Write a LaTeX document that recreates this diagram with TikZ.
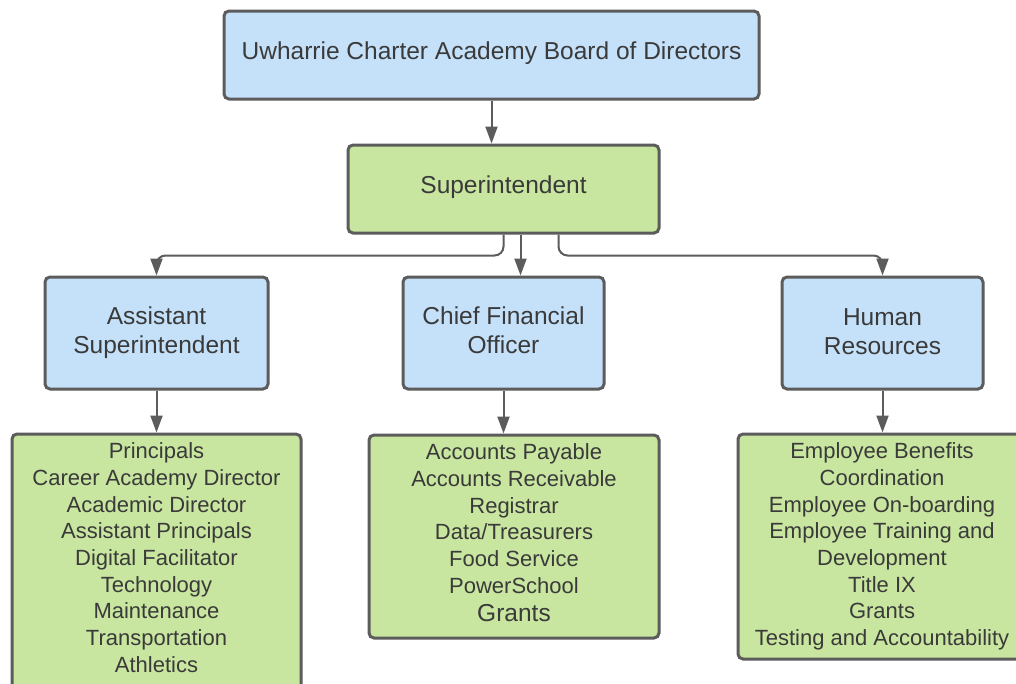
\documentclass[tikz,border=0pt]{standalone}
\usepackage{fontspec}
\setmainfont{Liberation Sans}
\usetikzlibrary{arrows.meta}
\definecolor{bluefill}{HTML}{C5E1F9}
\definecolor{greenfill}{HTML}{C8E69F}
\definecolor{edge}{HTML}{5C5C5C}
\definecolor{txt}{HTML}{3A3A3A}
\begin{document}
\begin{tikzpicture}[x=1pt,y=-1pt,
  box/.style={draw=edge, line width=3pt, rounded corners=5pt, inner sep=0pt, text=txt},
  bluebox/.style={box, fill=bluefill, font=\fontsize{24.5}{29}\selectfont, align=center},
  greenbox/.style={box, fill=greenfill},
  listtext/.style={text=txt, font=\fontsize{22}{26.7}\selectfont, align=center, inner sep=0pt, anchor=north},
  lbl/.style={text=txt, font=\fontsize{24.5}{29}\selectfont, align=center, inner sep=0pt},
  conn/.style={draw=edge, line width=2pt, rounded corners=9pt},
  arr/.style={conn, -{Triangle[length=17pt,width=12pt]}}]
\clip (0,0) rectangle (1016,683);
\fill[white] (0,0) rectangle (1016,683);

\node[box, fill=bluefill, minimum width=535pt, minimum height=88pt] (board) at (491.5,55) {};
\node[box, fill=greenfill, minimum width=311pt, minimum height=88pt] (super) at (503.5,189) {};
\node[box, fill=bluefill, minimum width=223pt, minimum height=112pt] (asst) at (156.5,333) {};
\node[box, fill=bluefill, minimum width=201pt, minimum height=112pt] (cfo) at (503.5,333) {};
\node[box, fill=bluefill, minimum width=201pt, minimum height=112pt] (hr) at (882.5,333) {};

\node[lbl] (boardt) at (491.5,53) {Uwharrie Charter Academy Board of Directors};
\node[lbl] (supert) at (503.5,187) {Superintendent};
\node[lbl] (asstt) at (156.5,332.5) {Assistant\\Superintendent};
\node[lbl] (cfot) at (503.5,330.5) {Chief Financial\\Officer};
\node[lbl] (hrt) at (882.5,331.5) {Human\\Resources};

\node[greenbox, minimum width=289pt, minimum height=265pt] (g1) at (156.5,566.5) {};
\node[greenbox, minimum width=290pt, minimum height=203pt] (g2) at (514,536.5) {};
\node[greenbox, minimum width=288pt, minimum height=225pt] (g3) at (882,546.5) {};

\node[listtext] (g1t) at ([yshift=-10pt]g1.north) {Principals\\Career Academy Director\\Academic Director\\Assistant Principals\\Digital Facilitator\\Technology\\Maintenance\\Transportation\\Athletics};
\node[listtext] (g2t) at ([yshift=-10pt]g2.north) {Accounts Payable\\Accounts Receivable\\Registrar\\Data/Treasurers\\Food Service\\PowerSchool\\[1.5pt]{\fontsize{24.5}{29}\selectfont Grants}};
\node[listtext] (g3t) at ([yshift=-10pt]g3.north) {Employee Benefits\\Coordination\\Employee On-boarding\\Employee Training and\\Development\\Title IX\\Grants\\Testing and Accountability};

\draw[arr] (board.south) -- (board.south |- super.north);
\draw[arr] (super.south) -- ++(0,21) -| (asst.north);
\draw[arr] ([xshift=17pt]super.south) -- ([xshift=17pt]super.south |- cfo.north);
\draw[arr] ([xshift=55pt]super.south) -- ++(0,21) -| (hr.north);
\draw[arr] (asst.south) -- (asst.south |- g1.north);
\draw[arr] (cfo.south) -- (cfo.south |- g2.north);
\draw[arr] (hr.south) -- (hr.south |- g3.north);
\end{tikzpicture}
\end{document}
